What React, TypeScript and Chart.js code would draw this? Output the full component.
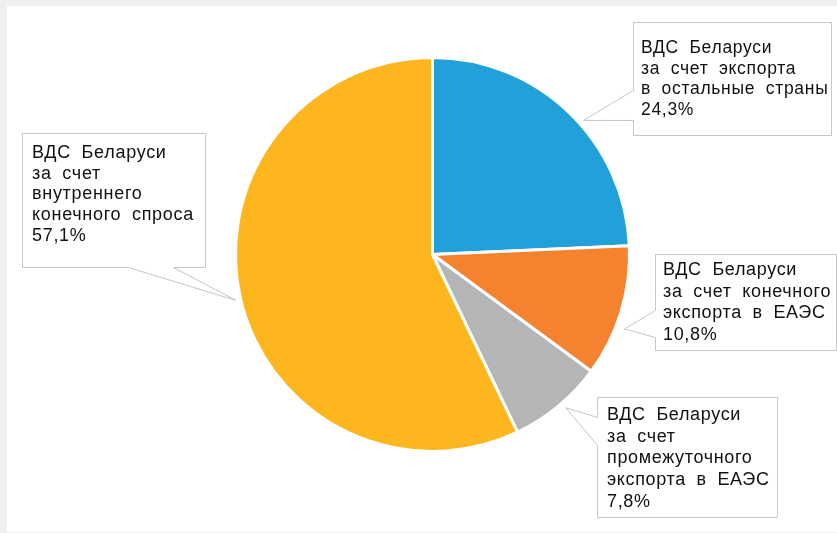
import { useEffect, useRef } from "react";
import { Chart, registerables } from "chart.js";

Chart.register(...registerables);

// ---- data ----
const categories = [
  "ВДС Беларуси за счет экспорта в остальные страны",
  "ВДС Беларуси за счет конечного экспорта в ЕАЭС",
  "ВДС Беларуси за счет промежуточного экспорта в ЕАЭС",
  "ВДС Беларуси за счет внутреннего конечного спроса",
];
const shares = [24.3, 10.8, 7.8, 57.1];
const sliceColors = ["#22a0d9", "#f5822f", "#b3b5b7", "#fdb61e"];
const calloutText = [
  ["ВДС Беларуси", "за счет экспорта", "в остальные страны"],
  ["ВДС Беларуси", "за счет конечного", "экспорта в ЕАЭС"],
  ["ВДС Беларуси", "за счет", "промежуточного", "экспорта в ЕАЭС"],
  ["ВДС Беларуси", "за счет", "внутреннего", "конечного спроса"],
];

// ---- callout layout (annotation boxes) ----
type Callout = {
  box: [number, number, number, number];
  side: "left" | "bottom";
  a1: number;
  a2: number;
  tipAngle: number;
  tipDist: number;
  textX: number;
  textY: number;
  lh: number;
  font: number;
  ls: number;
};
const calloutLayout: Callout[] = [
  { box: [633, 22, 198, 113], side: "left", a1: 90, a2: 120, tipAngle: -41.6, tipDist: 202, textX: 641, textY: 53, lh: 20.7, font: 17.5, ls: 0.7 },
  { box: [655, 254, 181, 96], side: "left", a1: 310, a2: 337, tipAngle: 21.2, tipDist: 206, textX: 663, textY: 275, lh: 21.7, font: 18, ls: 0.65 },
  { box: [597, 397, 180, 120], side: "left", a1: 417, a2: 445, tipAngle: 49.0, tipDist: 203, textX: 607, textY: 420, lh: 21.7, font: 18, ls: 0.65 },
  { box: [22, 133, 183, 134], side: "bottom", a1: 128, a2: 173, tipAngle: 166.9, tipDist: 202, textX: 32, textY: 158, lh: 20.7, font: 18, ls: 0.7 },
];

const fmt = (v: number) => v.toFixed(1).replace(".", ",") + "%";

const framePlugin = {
  id: "frame",
  beforeDraw(chart: any) {
    const ctx = chart.ctx;
    ctx.save();
    ctx.fillStyle = "#efefef";
    ctx.fillRect(0, 0, chart.width, chart.height);
    ctx.fillStyle = "#ffffff";
    ctx.fillRect(7, 6, chart.width - 7, 526);
    ctx.restore();
  },
};

const calloutPlugin = {
  id: "callouts",
  afterDraw(chart: any) {
    const ctx = chart.ctx;
    const meta = chart.getDatasetMeta(0);
    const arc0 = meta.data[0] as any;
    const cx = arc0.x;
    const cy = arc0.y;
    calloutLayout.forEach((c, i) => {
      const [x, y, w, h] = c.box;
      const ang = (c.tipAngle * Math.PI) / 180;
      const tx = cx + c.tipDist * Math.cos(ang);
      const ty = cy + c.tipDist * Math.sin(ang);
      ctx.save();
      ctx.beginPath();
      const X = x + 0.5, Y = y + 0.5;
      if (c.side === "left") {
        ctx.moveTo(X, Y);
        ctx.lineTo(X + w, Y);
        ctx.lineTo(X + w, Y + h);
        ctx.lineTo(X, Y + h);
        ctx.lineTo(X, c.a2 + 0.5);
        ctx.lineTo(tx, ty);
        ctx.lineTo(X, c.a1 + 0.5);
        ctx.closePath();
      } else {
        ctx.moveTo(X, Y);
        ctx.lineTo(X + w, Y);
        ctx.lineTo(X + w, Y + h);
        ctx.lineTo(c.a2 + 0.5, Y + h);
        ctx.lineTo(tx, ty);
        ctx.lineTo(c.a1 + 0.5, Y + h);
        ctx.lineTo(X, Y + h);
        ctx.closePath();
      }
      ctx.fillStyle = "#ffffff";
      ctx.fill();
      ctx.strokeStyle = "#c6c6c6";
      ctx.lineWidth = 1;
      ctx.stroke();

      ctx.fillStyle = "#111111";
      ctx.font = `${c.font}px "Liberation Sans", Arial, sans-serif`;
      try {
        (ctx as any).letterSpacing = `${c.ls}px`;
      } catch (e) {}
      ctx.textBaseline = "alphabetic";
      ctx.textAlign = "left";
      const lines = [...calloutText[i], fmt(shares[i])];
      const spaceW = ctx.measureText(" ").width + 5;
      lines.forEach((line, li) => {
        let px = c.textX;
        const py = c.textY + li * c.lh;
        line.split(" ").forEach((word) => {
          ctx.fillText(word, px, py);
          px += ctx.measureText(word).width + spaceW;
        });
      });
      ctx.restore();
    });
  },
};

export default function App() {
  const ref = useRef<HTMLCanvasElement | null>(null);
  useEffect(() => {
    if (!ref.current) return;
    const chart = new Chart(ref.current, {
      type: "pie",
      data: {
        labels: categories,
        datasets: [
          {
            data: shares,
            backgroundColor: sliceColors,
            borderColor: "#ffffff",
            borderWidth: 3,
          },
        ],
      },
      options: {
        responsive: false,
        animation: false,
        layout: { padding: { left: 234, right: 206, top: 56, bottom: 80 } },
        plugins: {
          legend: { display: false },
          tooltip: { enabled: false },
        },
      },
      plugins: [framePlugin, calloutPlugin],
    });
    return () => chart.destroy();
  }, []);
  return (
    <div style={{ position: "fixed", left: 0, top: 0, width: 837, height: 533, background: "#efefef" }}>
      <canvas ref={ref} width={837} height={533} style={{ display: "block", width: 837, height: 533 }} />
    </div>
  );
}
